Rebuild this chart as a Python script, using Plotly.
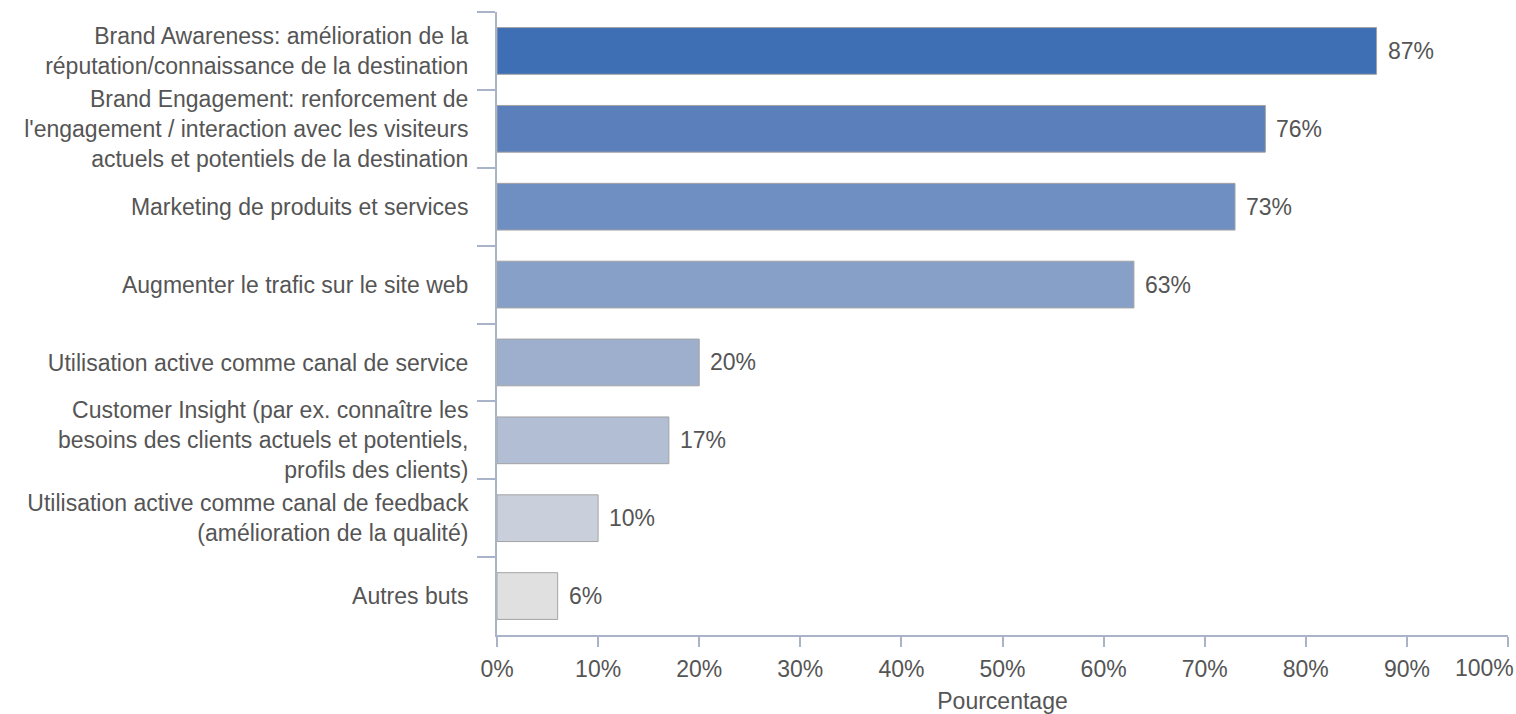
import plotly.graph_objects as go

# Survey results: goals pursued on social media (share of respondents, %)
categories = [
    "Brand Awareness: amélioration de la<br>réputation/connaissance de la destination",
    "Brand Engagement: renforcement de<br>l'engagement / interaction avec les visiteurs<br>actuels et potentiels de la destination",
    "Marketing de produits et services",
    "Augmenter le trafic sur le site web",
    "Utilisation active comme canal de service",
    "Customer Insight (par ex. connaître les<br>besoins des clients actuels et potentiels,<br>profils des clients)",
    "Utilisation active comme canal de feedback<br>(amélioration de la qualité)",
    "Autres buts",
]
values = [87, 76, 73, 63, 20, 17, 10, 6]
bar_colors = ["#3E6EB4", "#5A7FBA", "#6F8FC2", "#87A0C8",
              "#9DAFCD", "#B1BED3", "#C9D0DC", "#E0E0E0"]
x_ticks = list(range(0, 101, 10))
x_ticktext = [f"{t}%" for t in x_ticks]

FONT = "Liberation Sans, Arial, sans-serif"
SIZE = 23
TEXT = "#555555"
AXIS = "#A9B4C8"

fig = go.Figure(
    go.Bar(
        x=values,
        y=categories,
        orientation="h",
        width=0.6,
        marker=dict(color=bar_colors, line=dict(color="#A3A3A3", width=1)),
        hoverinfo="x+y",
    )
)

# value labels just to the right of each bar
for cat, v in zip(categories, values):
    fig.add_annotation(
        x=v, y=cat, xref="x", yref="y",
        text=f"{v}%", showarrow=False,
        xanchor="left", yanchor="middle", xshift=9,
        font=dict(family=FONT, size=SIZE, color=TEXT),
    )

# the last x tick label is right-aligned to its tick so it stays on the page
fig.add_annotation(
    x=x_ticks[-1], y=0, xref="x", yref="paper",
    text=x_ticktext[-1], showarrow=False,
    xanchor="right", yanchor="middle", xshift=8, yshift=-33,
    font=dict(family=FONT, size=SIZE, color=TEXT),
)

fig.update_layout(
    width=1516, height=714,
    margin=dict(l=497, r=8, t=12, b=79, autoexpand=False),
    paper_bgcolor="white", plot_bgcolor="white",
    showlegend=False,
    font=dict(family=FONT, size=SIZE, color=TEXT),
    xaxis=dict(
        range=[0, 100],
        automargin=False,
        tickvals=x_ticks,
        ticktext=x_ticktext[:-1] + [""],
        showgrid=False, zeroline=False,
        showline=True, linecolor=AXIS, linewidth=2,
        ticks="outside", ticklen=10, tickwidth=2, tickcolor=AXIS,
        ticklabelstandoff=2,
        tickfont=dict(family=FONT, size=SIZE, color=TEXT),
        title=dict(text="Pourcentage", standoff=20,
                   font=dict(family=FONT, size=SIZE, color=TEXT)),
        fixedrange=True,
    ),
    yaxis=dict(
        type="category",
        automargin=False,
        categoryorder="array", categoryarray=categories,
        autorange="reversed",
        showgrid=False, zeroline=False,
        showline=True, linecolor=AXIS, linewidth=2,
        ticks="outside", tickson="boundaries",
        ticklen=18, tickwidth=2, tickcolor=AXIS,
        ticklabelstandoff=22,
        tickfont=dict(family=FONT, size=SIZE, color=TEXT),
        fixedrange=True,
    ),
)

fig.write_html("out.html")
